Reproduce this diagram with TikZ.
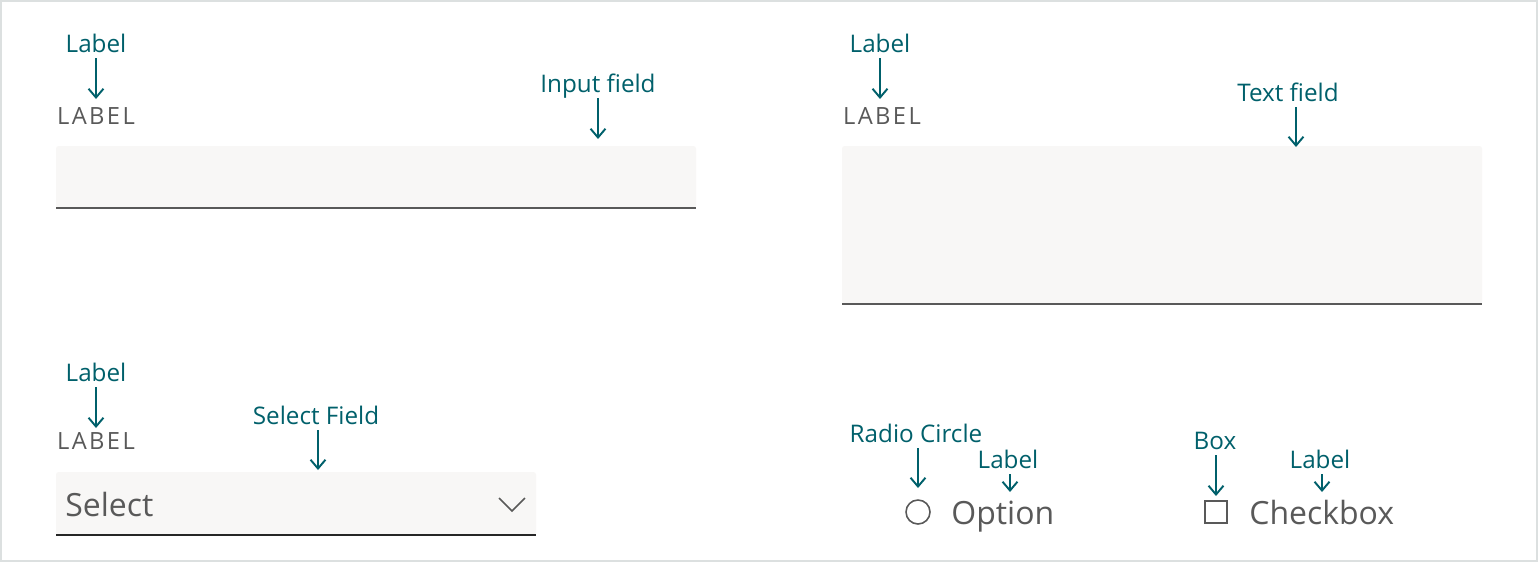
\documentclass[tikz,border=0pt]{standalone}
\usepackage{fontspec}
\setmainfont{Open Sans}
\newfontfamily\capsfont[LetterSpace=10]{Open Sans}
\usepackage{xcolor}
\usetikzlibrary{arrows.meta,positioning}
\definecolor{tealink}{HTML}{00606B}
\definecolor{inkgray}{HTML}{595959}
\definecolor{fieldfill}{HTML}{F8F7F6}
\definecolor{framegray}{HTML}{DCE0E0}
\tikzset{
	note/.style={text=tealink, font=\fontsize{13.8}{16}\selectfont, anchor=base,
			inner xsep=0pt, inner ysep=3.4pt, text depth=0pt},
	pointer/.style={draw=tealink, line width=1.1pt,
			-{Straight Barb[length=5pt,width=8.5pt]}},
	caps/.style={text=inkgray, font=\capsfont\fontsize{13.5}{16}\selectfont,
			anchor=base, inner sep=0pt},
	value/.style={text=inkgray, font=\fontsize{18.2}{22}\selectfont,
			anchor=base west, inner sep=0pt},
	field/.style={fill=fieldfill, rounded corners=1.5pt},
	underline/.style={draw=#1, line width=1.1pt}
}

\begin{document}
\begin{tikzpicture}[x=0.02cm, y=-0.02cm]
            \useasboundingbox (0,0) rectangle (1538,562);
            \draw[framegray, line width=1.2pt, fill=white] (1,1) rectangle (1537,561);
            % input field
            \fill[field] (56,146) rectangle (696,208);
            \draw[underline=inkgray] (56,208) -- (696,208);
            \node[note] (lblA) at (96,52) {Label};
            \node[caps] (capA) at (96,124) {LABEL};
            \node[note] (inputtxt) at (598,92) {Input field};
            \coordinate (capAtip) at (96,99);
            \coordinate (inputtip) at (598,139);
            \draw[pointer] (lblA.south) -- (capAtip);
            \draw[pointer] (inputtxt.south) -- (inputtip);
            % text field
            \fill[field] (842,146) rectangle (1482,304);
            \draw[underline=inkgray] (842,304) -- (1482,304);
            \node[note] (lblB) at (880,52) {Label};
            \node[caps] (capB) at (882,124) {LABEL};
            \node[note] (texttxt) at (1288,101) {Text field};
            \coordinate (capBtip) at (880,99);
            \coordinate (texttip) at (1296,147);
            \draw[pointer] (lblB.south) -- (capBtip);
            \draw[pointer] ([xshift=8*0.02cm]texttxt.south) -- (texttip);
            % select field
            \fill[field] (56,472) rectangle (536,535);
            \draw[underline=black!85] (56,535) -- (536,535);
            \node[note] (lblC) at (96,381) {Label};
            \node[caps] (capC) at (96,449) {LABEL};
            \node[note] (selecttxt) at (316,424) {Select Field};
            \node[value] (selectval) at (65,516) {Select};
            \draw[inkgray, line width=0.9pt] (499,498) -- (512,511) -- (525,498);
            \coordinate (capCtip) at (96,428);
            \coordinate (selecttip) at (318,470);
            \draw[pointer] (lblC.south) -- (capCtip);
            \draw[pointer] ([xshift=2*0.02cm]selecttxt.south) -- (selecttip);
            % radio
            \node[draw=inkgray, line width=0.9pt, circle, minimum size=24*0.02cm, inner sep=0pt] (radio) at (918,512) {};
            \node[value] (optionval) at (951,524) {Option};
            \node[note] (radiotxt) at (916,442) {Radio Circle};
            \node[note] (lblD) at (1008,468) {Label};
            \coordinate (radiotip) at (918,488);
            \coordinate (optiontip) at (1010,492);
            \draw[pointer] ([xshift=2*0.02cm]radiotxt.south) -- (radiotip);
            \draw[pointer] ([xshift=2*0.02cm]lblD.south) -- (optiontip);
            % checkbox
            \node[draw=inkgray, line width=0.9pt, minimum size=22*0.02cm, inner sep=0pt] (box) at (1216,512) {};
            \node[value] (checkval) at (1249,524) {Checkbox};
            \node[note] (boxtxt) at (1215,449) {Box};
            \node[note] (lblE) at (1320,468) {Label};
            \coordinate (boxtip) at (1216,496);
            \coordinate (checktip) at (1322,492);
            \draw[pointer] ([xshift=1*0.02cm]boxtxt.south) -- (boxtip);
            \draw[pointer] ([xshift=2*0.02cm]lblE.south) -- (checktip);
        \end{tikzpicture}
\end{document}
